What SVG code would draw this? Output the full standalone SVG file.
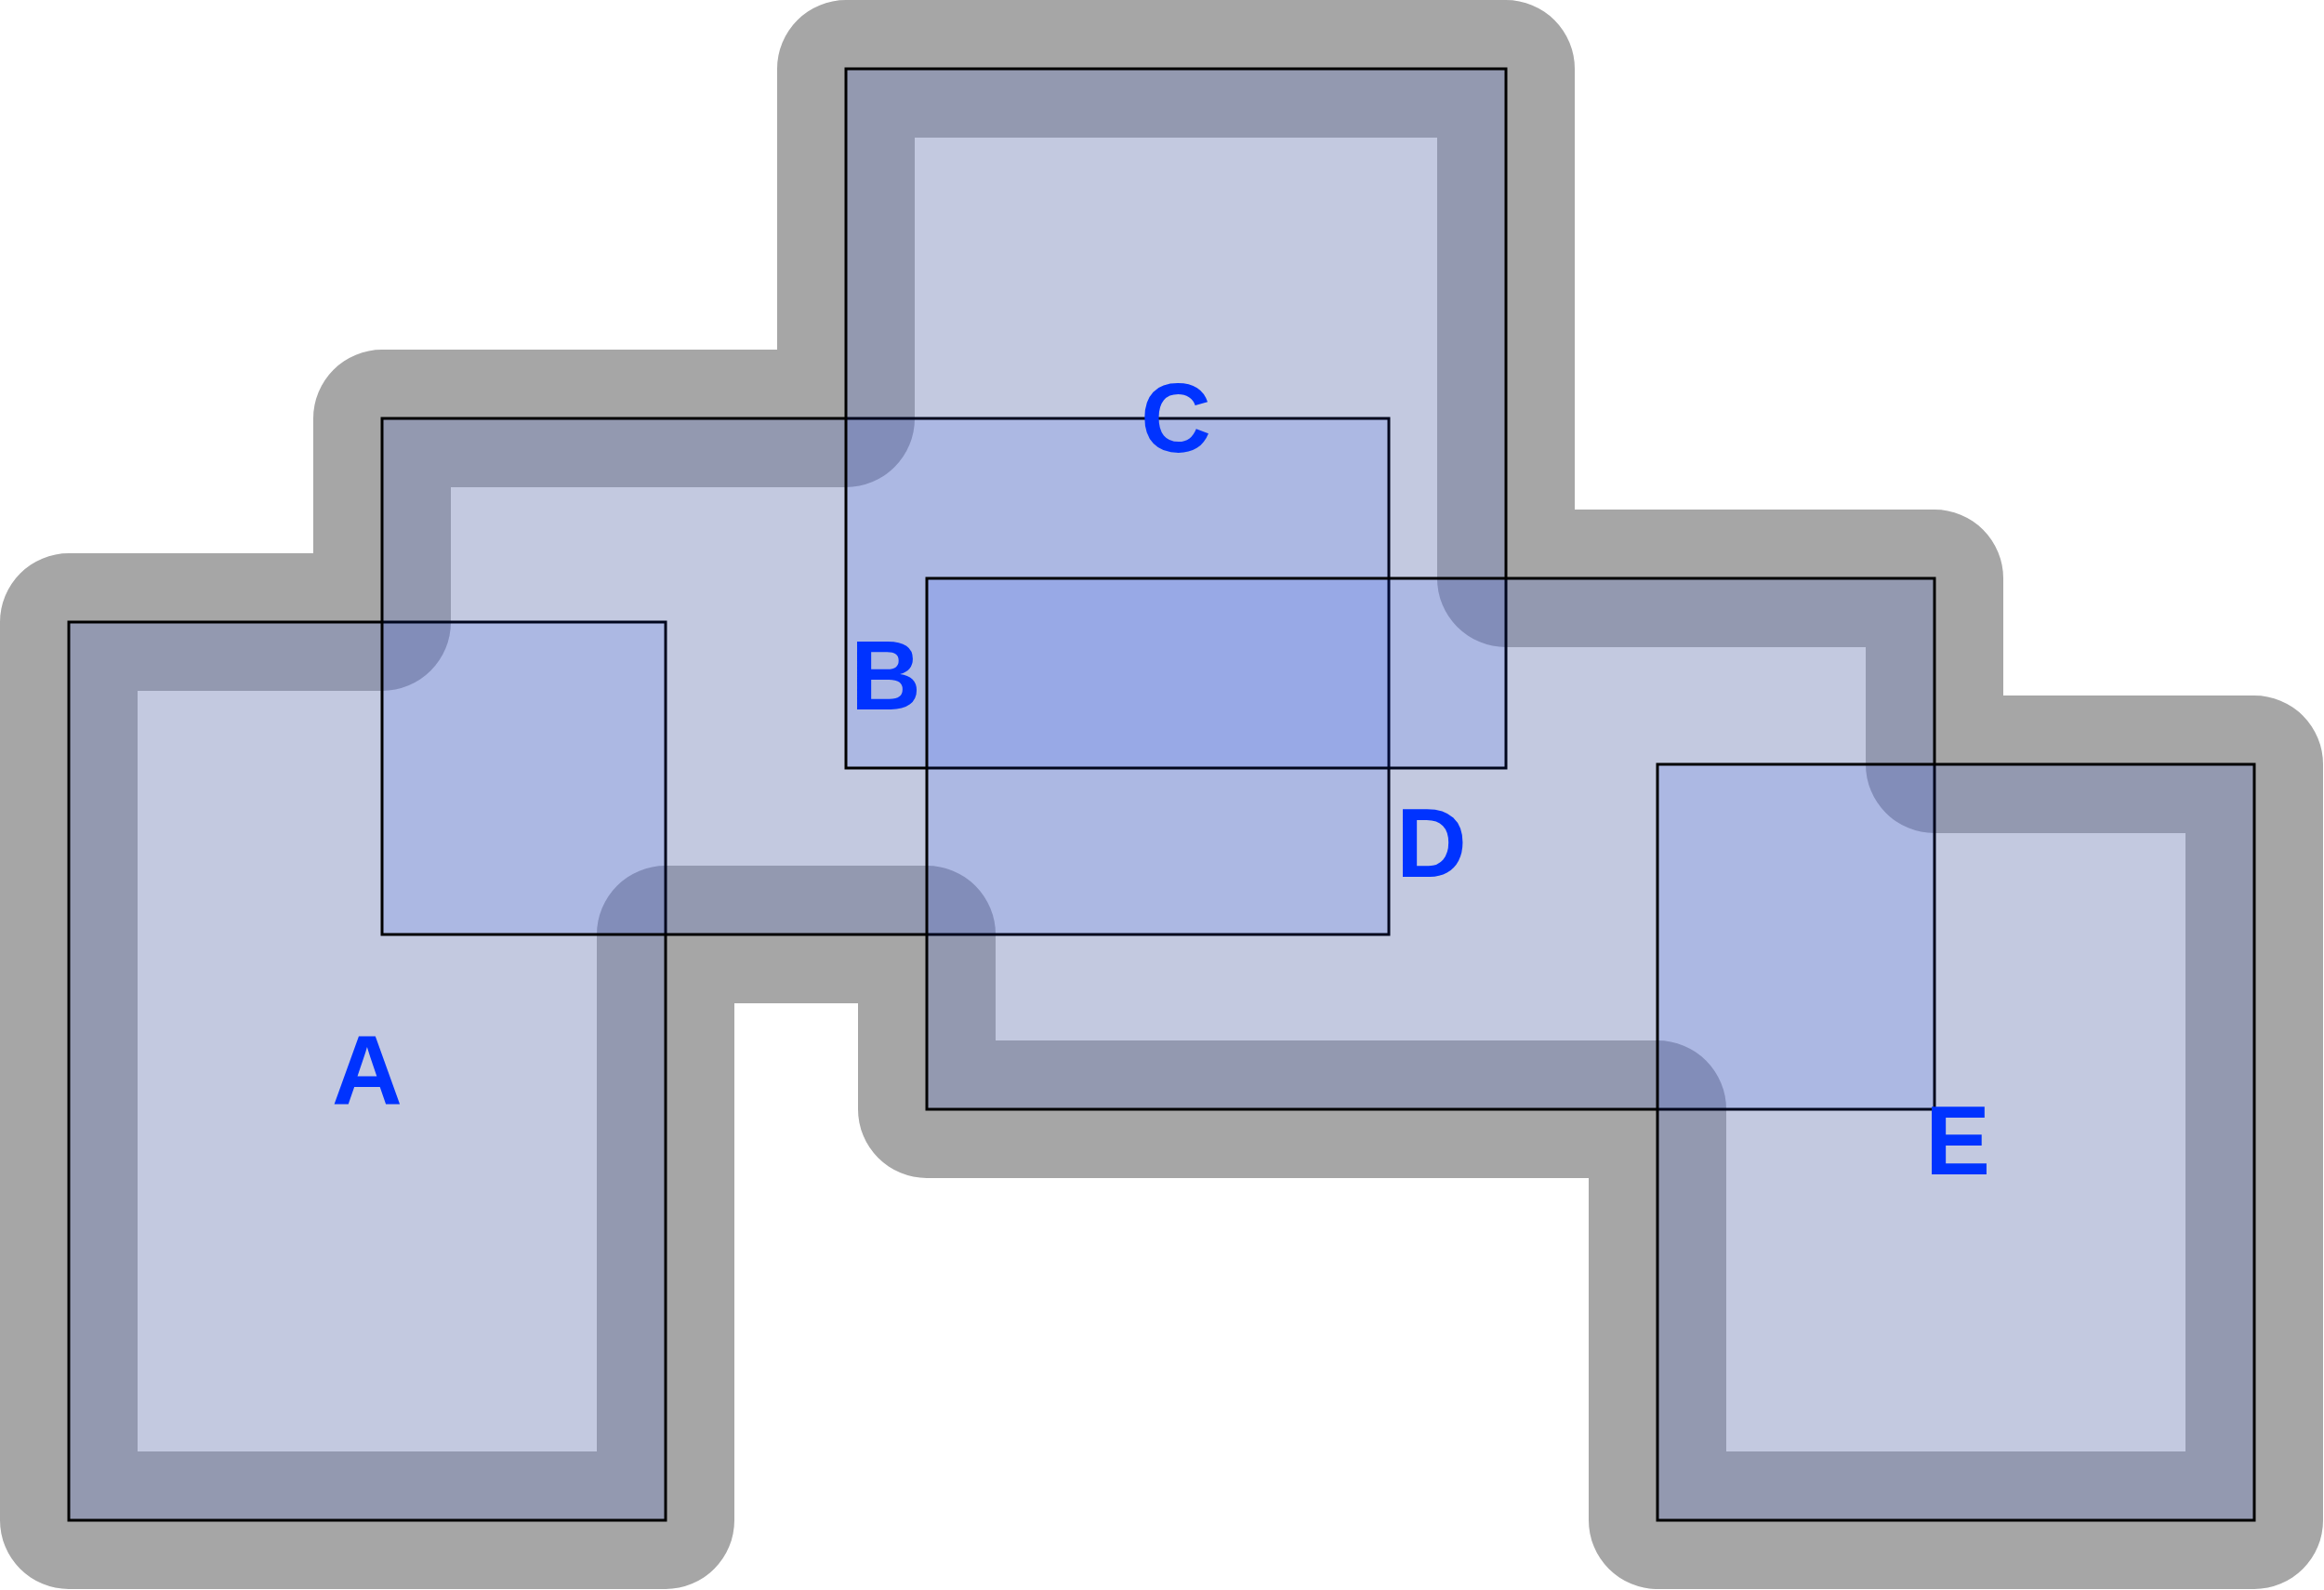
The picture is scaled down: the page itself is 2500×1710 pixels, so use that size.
<svg xmlns="http://www.w3.org/2000/svg" width="2500" height="1710" viewBox="0 0 2500 1710">
<style>
.box{fill:#0033ff;fill-opacity:0.113;stroke:#000;stroke-width:3}
.lbl{font-family:"Liberation Sans",Arial,sans-serif;font-weight:bold;font-size:105px;fill:#0033ff;text-anchor:middle}
</style>
<rect x="0" y="0" width="2500" height="1710" fill="#ffffff"/>
<g id="hull">
<path id="outer" fill="#a6a6a6" d="M 0,669 A 74 74 0 0 1 74,595 H 337 V 450 A 74 74 0 0 1 411,376 H 836 V 74 A 74 74 0 0 1 910,0 H 1620 A 74 74 0 0 1 1694,74 V 548 H 2081 A 74 74 0 0 1 2155,622 V 748 H 2425 A 74 74 0 0 1 2499,822 V 1635 A 74 74 0 0 1 2425,1709 H 1783 A 74 74 0 0 1 1709,1635 V 1267 H 997 A 74 74 0 0 1 923,1193 V 1079 H 790 V 1635 A 74 74 0 0 1 716,1709 H 74 A 74 74 0 0 1 0,1635 Z"/>
<path id="inner" fill="#dcdcdc" d="M 148,743 H 411 A 74 74 0 0 0 485,669 V 524 H 910 A 74 74 0 0 0 984,450 V 148 H 1546 V 622 A 74 74 0 0 0 1620,696 H 2007 V 822 A 74 74 0 0 0 2081,896 H 2351 V 1561 H 1857 V 1193 A 74 74 0 0 0 1783,1119 H 1071 V 1005 A 74 74 0 0 0 997,931 H 716 A 74 74 0 0 0 642,1005 V 1561 H 148 Z"/>
</g>
<g id="connectors"></g>
<g id="node-A"><rect class="box" x="74" y="669" width="642" height="966"/><text class="lbl" x="395" y="1188">A</text></g>
<g id="node-B"><rect class="box" x="411" y="450" width="1083" height="555"/><text class="lbl" x="953" y="763">B</text></g>
<g id="node-C"><rect class="box" x="910" y="74" width="710" height="752"/><text class="lbl" x="1265" y="486">C</text></g>
<g id="node-D"><rect class="box" x="997" y="622" width="1084" height="571"/><text class="lbl" x="1540" y="943">D</text></g>
<g id="node-E"><rect class="box" x="1783" y="822" width="642" height="813"/><text class="lbl" x="2106" y="1263">E</text></g>
</svg>
